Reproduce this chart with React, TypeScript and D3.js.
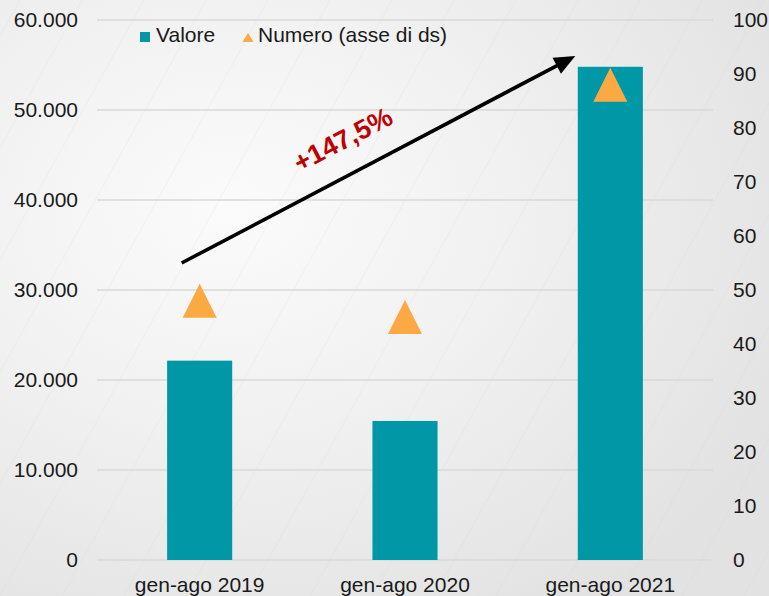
import React from 'react';
import * as d3 from 'd3';

const categories = ['gen-ago 2019', 'gen-ago 2020', 'gen-ago 2021'];
const valore = [22150, 15450, 54800];
const numero = [48, 45, 88];
const leftTicks = [0, 10000, 20000, 30000, 40000, 50000, 60000];
const rightTicks = [0, 10, 20, 30, 40, 50, 60, 70, 80, 90, 100];
const legendLabels = ['Valore', 'Numero (asse di ds)'];
const growthLabel = '+147,5%';

const W = 769;
const H = 596;
const plotLeft = 97;
const plotRight = 713;
const plotTop = 20;
const plotBottom = 560;
const FONT = '"Liberation Sans", Arial, sans-serif';
const TEAL = '#0097A7';
const ORANGE = '#FBA942';
const FS = 21;

const locale = d3.formatLocale({ decimal: ',', thousands: '.', grouping: [3], currency: ['', '€'] });
const fmt = locale.format(',d');

export default function App() {
  const x = d3.scaleBand<string>().domain(categories).range([plotLeft, plotRight]).paddingInner(0.683).paddingOuter(0.3415);
  const yL = d3.scaleLinear().domain([0, 60000]).range([plotBottom, plotTop]);
  const yR = d3.scaleLinear().domain([0, 100]).range([plotBottom, plotTop]);
  const bw = x.bandwidth();
  const cx = (c: string) => (x(c) as number) + bw / 2;

  const tri = (w: number, h: number) => `M0,${-h / 2}L${w / 2},${h / 2}L${-w / 2},${h / 2}Z`;

  // arrow annotation
  const ax0 = cx(categories[0]) - 18;
  const ay0 = yL(33000);
  const ax1 = cx(categories[2]) - 35;
  const ay1 = yL(56000);
  const dx = ax1 - ax0;
  const dy = ay1 - ay0;
  const len = Math.sqrt(dx * dx + dy * dy);
  const ux = dx / len;
  const uy = dy / len;
  const headL = 21;
  const headW = 9;
  const bx = ax1 - ux * headL;
  const by = ay1 - uy * headL;
  const head = `M${ax1},${ay1}L${bx - uy * headW},${by + ux * headW}L${bx + uy * headW},${by - ux * headW}Z`;
  const angle = (Math.atan2(dy, dx) * 180) / Math.PI;
  const tx = ax0 + dx * 0.45 + uy * 34;
  const ty = ay0 + dy * 0.45 - ux * 34;

  return (
    <svg width={W} height={H} style={{ position: 'absolute', left: 0, top: 0 }} fontFamily={FONT}>
      <defs>
        <radialGradient id="bg" cx="0.3" cy="0.35" r="0.8">
          <stop offset="0" stopColor="#fbfbfb" />
          <stop offset="0.45" stopColor="#f1f1f1" />
          <stop offset="1" stopColor="#e2e2e2" />
        </radialGradient>
      </defs>
      <rect x={0} y={0} width={W} height={H} fill="url(#bg)" />
      {d3.range(-6, 16).map((i) => (
        <line key={i} x1={i * 62} y1={H} x2={i * 62 + 330} y2={0} stroke="#d0d0d0" strokeOpacity={0.18} strokeWidth={1} />
      ))}
      {leftTicks.map((t) => (
        <line key={t} x1={plotLeft} x2={plotRight} y1={yL(t)} y2={yL(t)} stroke="#d9d9d9" strokeWidth={1.3} />
      ))}
      {leftTicks.map((t) => (
        <text key={t} x={78} y={yL(t)} dy="0.35em" textAnchor="end" fontSize={FS} fill="#1a1a1a">
          {fmt(t)}
        </text>
      ))}
      {rightTicks.map((t) => (
        <text key={t} x={733} y={yR(t)} dy="0.35em" textAnchor="start" fontSize={FS} fill="#1a1a1a">
          {t}
        </text>
      ))}
      {categories.map((c) => (
        <text key={c} x={cx(c)} y={592} textAnchor="middle" fontSize={FS} fill="#1a1a1a">
          {c}
        </text>
      ))}
      {categories.map((c, i) => (
        <rect key={c} x={x(c)} y={yL(valore[i])} width={bw} height={yL(0) - yL(valore[i])} fill={TEAL} />
      ))}
      {categories.map((c, i) => (
        <path key={c} d={tri(34, 34)} transform={`translate(${cx(c)},${yR(numero[i])})`} fill={ORANGE} />
      ))}
      <line x1={ax0} y1={ay0} x2={bx + ux * 2} y2={by + uy * 2} stroke="#000" strokeWidth={3.6} />
      <path d={head} fill="#000" />
      <text
        x={tx}
        y={ty}
        textAnchor="middle"
        dominantBaseline="central"
        fontSize={27}
        fontWeight="bold"
        fill="#C00000"
        transform={`rotate(${angle},${tx},${ty})`}
      >
        {growthLabel}
      </text>
      <g>
        <rect x={140} y={32} width={10} height={10} fill={TEAL} />
        <text x={156} y={42} fontSize={FS} fill="#1a1a1a">{legendLabels[0]}</text>
        <path d={tri(11, 9)} transform="translate(248,37.5)" fill={ORANGE} />
        <text x={258} y={42} fontSize={FS} fill="#1a1a1a">{legendLabels[1]}</text>
      </g>
    </svg>
  );
}
